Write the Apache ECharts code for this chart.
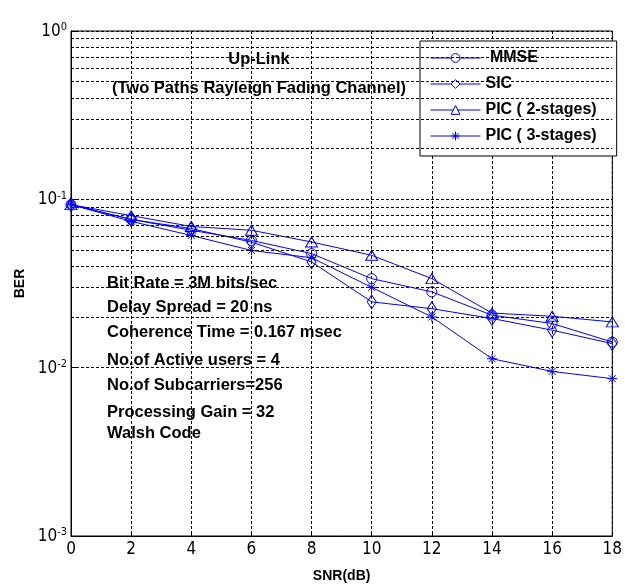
<!DOCTYPE html>
<html><head><meta charset="utf-8">
<script src="https://cdn.jsdelivr.net/npm/echarts@6/dist/echarts.min.js"></script>
<style>html,body{margin:0;padding:0;background:#fff}#c{width:625px;height:588px}</style>
</head><body><div id="c"></div>
<script>
// ---- data ----
const snr = [0, 2, 4, 6, 8, 10, 12, 14, 16, 18];
const mmse = [0.093, 0.076, 0.0655, 0.057, 0.0476, 0.0338, 0.0282, 0.0205, 0.0183, 0.0142];
const sic  = [0.093, 0.076, 0.067, 0.0557, 0.0425, 0.0246, 0.0224, 0.0196, 0.0167, 0.0139];
const pic2 = [0.093, 0.080, 0.069, 0.0655, 0.0558, 0.0465, 0.0338, 0.0211, 0.0202, 0.0187];
const pic3 = [0.093, 0.074, 0.061, 0.0497, 0.045, 0.030, 0.020, 0.0113, 0.0095, 0.0086];
const seriesNames = ['MMSE', 'SIC', 'PIC ( 2-stages)', 'PIC ( 3-stages)'];
const xTicks = [0, 2, 4, 6, 8, 10, 12, 14, 16, 18];
const yTicks = [0.001, 0.01, 0.1, 1];
const minorGrid = [0.002,0.003,0.004,0.005,0.006,0.007,0.008,0.009,
                   0.02,0.03,0.04,0.05,0.06,0.07,0.08,0.09,
                   0.2,0.3,0.4,0.5,0.6,0.7,0.8,0.9];
const titleLines = ['Up-Link', '(Two Paths Rayleigh Fading Channel)'];
const paramLines = ['Bit Rate = 3M bits/sec', 'Delay Spread = 20 ns', 'Coherence Time = 0.167 msec',
  'No.of Active users = 4', 'No.of Subcarriers=256', 'Processing Gain = 32', 'Walsh Code'];

// ---- styling ----
const BLUE = '#0000ff';
const NARROW = '"Liberation Sans Narrow","Arial Narrow","DejaVu Sans Condensed",sans-serif';
const SANS = '"Liberation Sans",Arial,sans-serif';
const titleY = [59, 88];
const paramY = [283, 307, 332, 360, 385, 412, 433];
const starPath = 'path://M0,5L10,5M5,0L5,10M1.5,1.5L8.5,8.5M8.5,1.5L1.5,8.5';

function mk(name, vals, symbol, size) {
  return {
    name: name, type: 'line', z: 3,
    data: snr.map((x, i) => [x, vals[i]]),
    symbol: symbol, symbolSize: size,
    lineStyle: { color: BLUE, width: 1 },
    itemStyle: { color: 'rgba(255,255,255,0)', borderColor: BLUE, borderWidth: 1 },
    emphasis: { disabled: true }
  };
}

const graphics = [];
titleLines.forEach((t, i) => graphics.push({
  type: 'text', x: 259, y: titleY[i],
  style: { text: t, font: 'bold 16.5px ' + SANS, fill: '#000', align: 'center', verticalAlign: 'middle' }
}));
paramLines.forEach((t, i) => graphics.push({
  type: 'text', x: 107, y: paramY[i],
  style: { text: t, font: 'bold 16.5px ' + SANS, fill: '#000', align: 'left', verticalAlign: 'middle' }
}));

const chart = echarts.init(document.getElementById('c'), null, { renderer: 'canvas' });
chart.setOption({
  backgroundColor: '#fff',
  animation: false,
  grid: { left: 71, right: 6, top: 31, bottom: 52, show: true, borderColor: '#000', borderWidth: 1, backgroundColor: '#fff' },
  xAxis: {
    type: 'value', min: xTicks[0], max: xTicks[xTicks.length - 1], interval: 2,
    name: 'SNR(dB)', nameLocation: 'middle', nameGap: 33,
    nameTextStyle: { fontFamily: SANS, fontWeight: 'bold', fontSize: 14, color: '#000' },
    axisLine: { lineStyle: { color: '#000' } },
    axisTick: { inside: true, length: 5, lineStyle: { color: '#000' } },
    axisLabel: { fontFamily: NARROW, fontSize: 17, color: '#000', margin: 5 },
    splitLine: { show: true, lineStyle: { color: '#000', type: [3, 2], width: 1 } }
  },
  yAxis: {
    type: 'log', logBase: 10, min: yTicks[0], max: yTicks[yTicks.length - 1], interval: 1,
    name: 'BER', nameLocation: 'middle', nameGap: 36,
    nameTextStyle: { fontFamily: SANS, fontWeight: 'bold', fontSize: 14, color: '#000' },
    axisLine: { lineStyle: { color: '#000' } },
    axisTick: { inside: true, length: 5, lineStyle: { color: '#000' } },
    axisLabel: {
      margin: 4, color: '#000',
      formatter: v => '{b|10}{s|' + Math.round(Math.log10(v)) + '}',
      rich: {
        b: { fontFamily: NARROW, fontSize: 17, color: '#000', lineHeight: 18, verticalAlign: 'bottom' },
        s: { fontFamily: NARROW, fontSize: 11, color: '#000', lineHeight: 18, verticalAlign: 'top', padding: [0, 0, 6, 0] }
      }
    },
    splitLine: { show: true, lineStyle: { color: '#000', type: [3, 2], width: 1 } }
  },
  legend: {
    data: seriesNames, orient: 'vertical', left: 420, top: 41,
    backgroundColor: '#fff', borderColor: '#000', borderWidth: 1,
    padding: [9, 20, 12, 10], itemGap: 10, itemWidth: 50, itemHeight: 11,
    itemStyle: { color: '#fff', borderColor: BLUE, borderWidth: 1 },
    lineStyle: { color: BLUE, width: 1 },
    formatter: n => (n === 'MMSE' ? ' ' + n : n),
    textStyle: { fontFamily: SANS, fontWeight: 'bold', fontSize: 16, color: '#000' },
    selectedMode: false
  },
  graphic: graphics,
  series: [
    {
      name: 'grid', type: 'line', data: [], z: 1, silent: true,
      markLine: {
        silent: true, symbol: 'none', animation: false,
        label: { show: false },
        lineStyle: { color: '#000', type: [3, 2], width: 1 },
        data: minorGrid.map(v => ({ yAxis: v }))
      }
    },
    mk(seriesNames[0], mmse, 'circle', 10),
    mk(seriesNames[1], sic, 'diamond', [9, 14]),
    mk(seriesNames[2], pic2, 'triangle', [12, 10]),
    mk(seriesNames[3], pic3, starPath, 10)
  ]
});
</script></body></html>
